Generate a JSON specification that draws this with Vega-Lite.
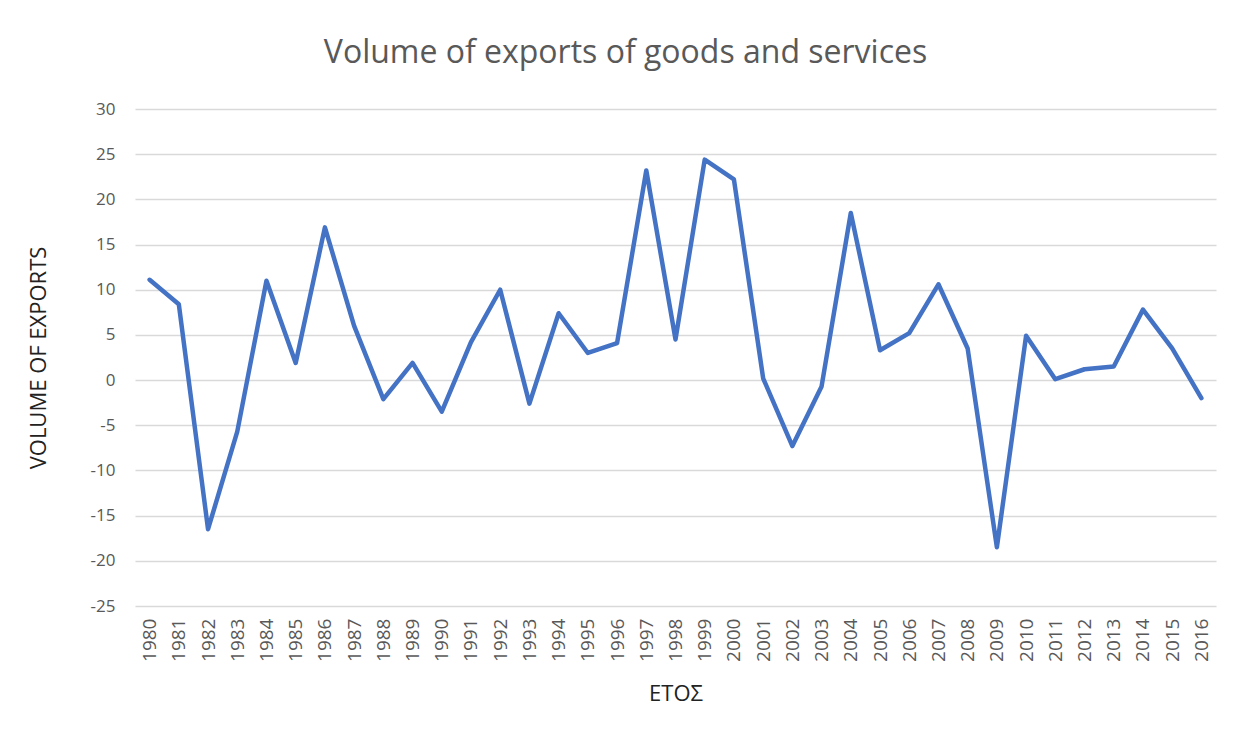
{
  "$schema": "https://vega.github.io/schema/vega-lite/v6.json",
  "autosize": {"type": "none"},
  "width": 1081,
  "height": 497,
  "padding": {"left": 135, "top": 109, "right": 28, "bottom": 133},
  "background": "white",
  "title": {
    "text": "Volume of exports of goods and services",
    "font": "Open Sans",
    "fontSize": 32,
    "fontWeight": "normal",
    "color": "#595959",
    "anchor": "middle",
    "dx": -50,
    "offset": 30
  },
  "data": {
    "values": [
      {"year": "1980", "value": 11.1},
      {"year": "1981", "value": 8.4},
      {"year": "1982", "value": -16.5},
      {"year": "1983", "value": -5.7},
      {"year": "1984", "value": 11.0},
      {"year": "1985", "value": 1.9},
      {"year": "1986", "value": 16.9},
      {"year": "1987", "value": 6.0},
      {"year": "1988", "value": -2.1},
      {"year": "1989", "value": 1.9},
      {"year": "1990", "value": -3.5},
      {"year": "1991", "value": 4.2},
      {"year": "1992", "value": 10.0},
      {"year": "1993", "value": -2.6},
      {"year": "1994", "value": 7.4},
      {"year": "1995", "value": 3.0},
      {"year": "1996", "value": 4.1},
      {"year": "1997", "value": 23.2},
      {"year": "1998", "value": 4.5},
      {"year": "1999", "value": 24.4},
      {"year": "2000", "value": 22.2},
      {"year": "2001", "value": 0.2},
      {"year": "2002", "value": -7.3},
      {"year": "2003", "value": -0.7},
      {"year": "2004", "value": 18.5},
      {"year": "2005", "value": 3.3},
      {"year": "2006", "value": 5.2},
      {"year": "2007", "value": 10.6},
      {"year": "2008", "value": 3.5},
      {"year": "2009", "value": -18.5},
      {"year": "2010", "value": 4.9},
      {"year": "2011", "value": 0.1},
      {"year": "2012", "value": 1.2},
      {"year": "2013", "value": 1.5},
      {"year": "2014", "value": 7.8},
      {"year": "2015", "value": 3.5},
      {"year": "2016", "value": -2.0}
    ]
  },
  "mark": {"type": "line", "color": "#4472C4", "strokeWidth": 4.5, "strokeCap": "round", "strokeJoin": "round"},
  "encoding": {
    "x": {
      "field": "year",
      "type": "ordinal",
      "scale": {"type": "point", "padding": 0.5},
      "axis": {
        "title": "ΕΤΟΣ",
        "labelAngle": -90,
        "labelAlign": "right",
        "labelBaseline": "middle",
        "labelFont": "Open Sans",
        "labelFontSize": 19,
        "labelColor": "#595959",
        "labelPadding": 12,
        "ticks": false,
        "domain": false,
        "grid": false,
        "titleFont": "Open Sans",
        "titleFontSize": 22,
        "titleFontWeight": "normal",
        "titleColor": "#222222",
        "titlePadding": 22
      }
    },
    "y": {
      "field": "value",
      "type": "quantitative",
      "scale": {"domain": [-25, 30], "nice": false, "zero": false},
      "axis": {
        "title": "VOLUME OF EXPORTS",
        "values": [-25, -20, -15, -10, -5, 0, 5, 10, 15, 20, 25, 30],
        "labelExpr": "'' + datum.value",
        "labelFont": "Open Sans",
        "labelFontSize": 17,
        "labelColor": "#595959",
        "labelPadding": 20,
        "ticks": false,
        "domain": false,
        "grid": true,
        "gridColor": "#d9d9d9",
        "gridWidth": 1.3,
        "titleFont": "Open Sans",
        "titleFontSize": 22,
        "titleFontWeight": "normal",
        "titleColor": "#222222",
        "titlePadding": 40
      }
    }
  },
  "config": {"view": {"stroke": null}}
}
